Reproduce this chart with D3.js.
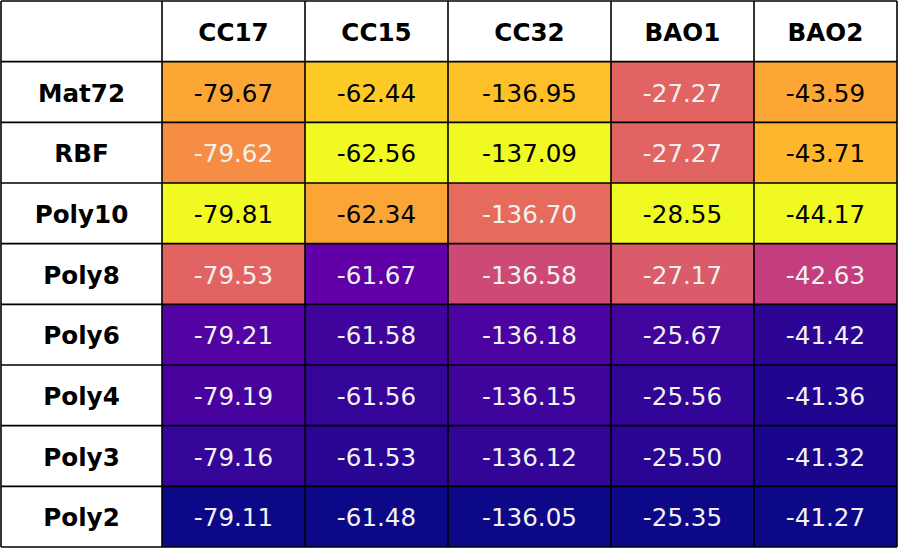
<!DOCTYPE html>
<html>
<head>
<meta charset="utf-8">
<script src="https://cdn.jsdelivr.net/npm/d3@7"></script>
<style>
  body { margin: 0; background: #fff; }
  svg { display: block; }
</style>
</head>
<body>
<svg width="898" height="550"></svg>
<script>
var columns = ["CC17", "CC15", "CC32", "BAO1", "BAO2"],
  rows = ["Mat72", "RBF", "Poly10", "Poly8", "Poly6", "Poly4", "Poly3", "Poly2"];

// one array per column, in row order
var cc17 = [-79.67, -79.62, -79.81, -79.53, -79.21, -79.19, -79.16, -79.11],
  cc15 = [-62.44, -62.56, -62.34, -61.67, -61.58, -61.56, -61.53, -61.48],
  cc32 = [-136.95, -137.09, -136.70, -136.58, -136.18, -136.15, -136.12, -136.05],
  bao1 = [-27.27, -27.27, -28.55, -27.17, -25.67, -25.56, -25.50, -25.35],
  bao2 = [-43.59, -43.71, -44.17, -42.63, -41.42, -41.36, -41.32, -41.27];

var series = [cc17, cc15, cc32, bao1, bao2];

var svg = d3.select("svg");

// column edges (label column + data columns), uneven widths like the original
var colEdges = [1, 162, 305, 448, 611, 754, 897];
var tableTop = 1, tableBottom = 547, nRows = rows.length + 1;
var y = d3.scaleLinear().domain([0, nRows]).range([tableTop, tableBottom]);

var cells = [];
series.forEach(function(vals, ci) {
  // most negative -> yellow end of plasma
  var t = d3.scaleLinear().domain([d3.max(vals), d3.min(vals)]).range([0, 1]);
  vals.forEach(function(v, ri) {
    cells.push({col: ci + 1, row: ri + 1, v: v, t: t(v)});
  });
});

var g = svg.append("g");

g.selectAll("rect.cell")
  .data(cells)
  .enter().append("rect")
  .attr("class", "cell")
  .attr("x", function(d) { return colEdges[d.col]; })
  .attr("y", function(d) { return y(d.row); })
  .attr("width", function(d) { return colEdges[d.col + 1] - colEdges[d.col]; })
  .attr("height", y(1) - y(0))
  .attr("fill", function(d) { return d3.interpolatePlasma(d.t); });

// grid lines
var grid = svg.append("g").attr("stroke", "#000").attr("stroke-width", 1.6);
colEdges.forEach(function(x) {
  grid.append("line").attr("x1", x).attr("x2", x).attr("y1", tableTop).attr("y2", tableBottom);
});
d3.range(nRows + 1).forEach(function(i) {
  grid.append("line").attr("x1", colEdges[0]).attr("x2", colEdges[colEdges.length - 1])
    .attr("y1", y(i)).attr("y2", y(i));
});

var txt = svg.append("g")
  .style("font-family", "'DejaVu Sans', sans-serif")
  .style("font-size", "24.6px")
  .attr("text-anchor", "middle")
  .attr("dominant-baseline", "central");

function cx(c) { return (colEdges[c] + colEdges[c + 1]) / 2; }
function cy(r) { return (y(r) + y(r + 1)) / 2 + 1; }

txt.selectAll("text.head")
  .data(columns)
  .enter().append("text")
  .attr("class", "head")
  .attr("x", function(d, i) { return cx(i + 1); })
  .attr("y", cy(0))
  .style("font-weight", "bold")
  .text(function(d) { return d; });

txt.selectAll("text.row")
  .data(rows)
  .enter().append("text")
  .attr("class", "row")
  .attr("x", cx(0))
  .attr("y", function(d, i) { return cy(i + 1); })
  .style("font-weight", "bold")
  .text(function(d) { return d; });

txt.selectAll("text.val")
  .data(cells)
  .enter().append("text")
  .attr("class", "val")
  .attr("x", function(d) { return cx(d.col); })
  .attr("y", function(d) { return cy(d.row); })
  .attr("fill", function(d) { return d.t > 0.77 ? "#000" : "#f2f2f2"; })
  .text(function(d) { return d.v.toFixed(2); });
</script>
</body>
</html>
